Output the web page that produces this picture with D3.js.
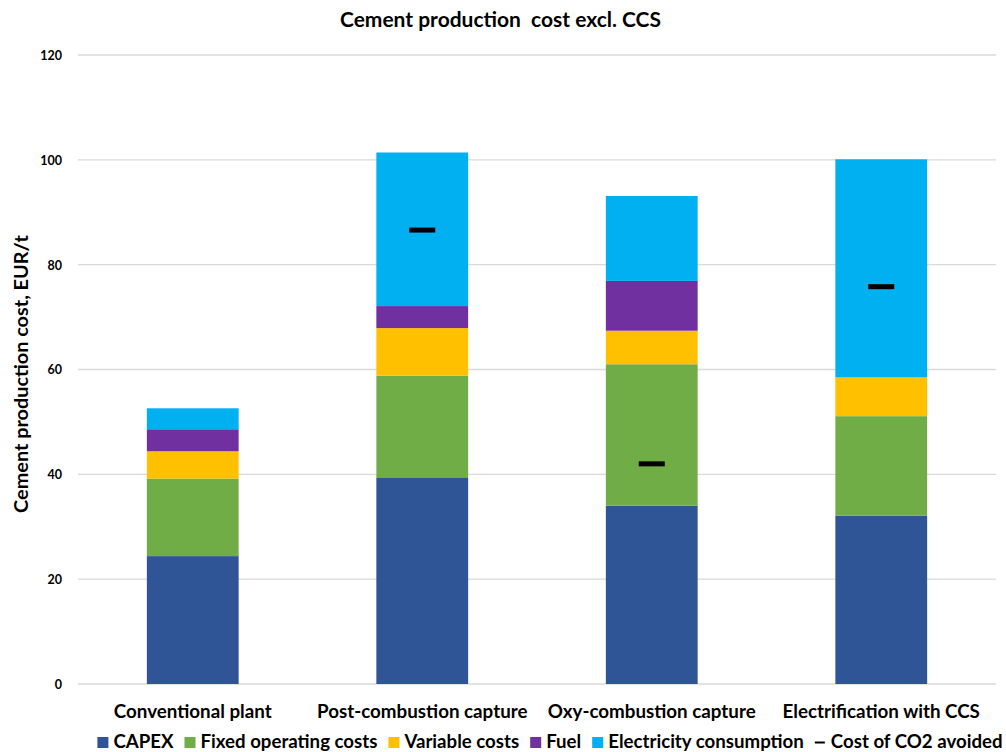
<!DOCTYPE html>
<html><head><meta charset="utf-8">
<script src="https://cdn.jsdelivr.net/npm/d3@7"></script>
<style>
html,body{margin:0;padding:0;background:#fff;}
text{font-family:Lato,"Liberation Sans",sans-serif;font-weight:bold;fill:#000;}
</style></head>
<body><svg id="chart" width="1006" height="752"></svg>
<script>
const categories = ["Conventional plant","Post-combustion capture","Oxy-combustion capture","Electrification with CCS"];
const seriesNames = ["CAPEX","Fixed operating costs","Variable costs","Fuel","Electricity consumption"];
const capex    = [24.4, 39.3, 34.0, 32.1];
const fixedOp  = [14.8, 19.5, 27.0, 19.0];
const variable = [5.2, 9.1, 6.4, 7.4];
const fuel     = [4.2, 4.2, 9.5, 0];
const elec     = [4.0, 29.3, 16.2, 41.6];
const co2Avoided = [null, 86.6, 42.0, 75.8];
const yTicks = [0,20,40,60,80,100,120];
const colors = ["#2F5597","#70AD47","#FFC000","#7030A0","#00B0F0"];

const svg = d3.select("#chart");
const plot = {left:78, right:996, top:55, bottom:684};

// scale a text's font-size so its width matches a target
function fit(sel, target, base) {
  sel.attr("font-size", base);
  const w = sel.node().getComputedTextLength();
  const fs = base * target / w;
  sel.attr("font-size", fs);
  return fs;
}

const x = d3.scaleBand().domain(categories).range([plot.left, plot.right]).paddingInner(0.6).paddingOuter(0.3);
const y = d3.scaleLinear().domain([0,120]).range([plot.bottom, plot.top]);

// gridlines
svg.append("g").selectAll("line").data(yTicks).join("line")
  .attr("x1", plot.left).attr("x2", plot.right)
  .attr("y1", d=>y(d)).attr("y2", d=>y(d))
  .attr("stroke", "#d9d9d9").attr("stroke-width", 1.3);

// y axis labels
const yAxis = d3.axisLeft(y).tickValues(yTicks).tickSize(0).tickPadding(0).tickFormat(d3.format("d"));
const yg = svg.append("g").attr("transform", `translate(62,0)`).call(yAxis);
yg.select(".domain").remove();
yg.selectAll("text").attr("font-size", 12.5).attr("font-family", "'DejaVu Sans','Liberation Sans',sans-serif").attr("font-weight","bold").attr("dy","0.35em");

// stacked data
const rows = categories.map((c,i)=>({cat:c, s0:capex[i], s1:fixedOp[i], s2:variable[i], s3:fuel[i], s4:elec[i]}));
const stack = d3.stack().keys(["s0","s1","s2","s3","s4"])(rows);

svg.append("g").selectAll("g").data(stack).join("g")
  .attr("fill", (d,i)=>colors[i])
  .selectAll("rect").data(d=>d).join("rect")
  .attr("x", d=>x(d.data.cat))
  .attr("width", x.bandwidth())
  .attr("y", d=>y(d[1]))
  .attr("height", d=>Math.max(0, y(d[0]) - y(d[1])));

// CO2 avoided markers
const mk = categories.map((c,i)=>({cat:c, v:co2Avoided[i]})).filter(d=>d.v!=null);
svg.append("g").selectAll("rect").data(mk).join("rect")
  .attr("x", d=>x(d.cat)+x.bandwidth()/2-13)
  .attr("width", 26)
  .attr("y", d=>y(d.v)-2.5)
  .attr("height", 5)
  .attr("fill", "#000");

// x labels
const xl = svg.append("g").selectAll("text").data(categories).join("text")
  .attr("x", d=>x(d)+x.bandwidth()/2)
  .attr("y", 718)
  .attr("text-anchor","middle")
  .text(d=>d);
const xfs = fit(d3.select(xl.nodes()[0]), 158, 16);
xl.attr("font-size", xfs);

// title
const title = svg.append("text").attr("x", 500.5).attr("y", 27).attr("text-anchor","middle")
  .style("white-space","pre").text("Cement production  cost excl. CCS");
fit(title, 321, 17);

// y title
const yt = svg.append("text").attr("transform","translate(28,374) rotate(-90)")
  .attr("text-anchor","middle")
  .text("Cement production cost, EUR/t");
fit(yt, 278, 16);

// legend
const legendItems = seriesNames.map((n,i)=>({name:n, color:colors[i], type:"box"}))
  .concat([{name:"Cost of CO2 avoided", color:"#000", type:"line"}]);
const lg = svg.append("g");
function layoutLegend(fs) {
  lg.selectAll("*").remove();
  let cx = 0;
  legendItems.forEach(it=>{
    const g = lg.append("g").attr("transform", `translate(${cx},0)`);
    if (it.type==="box") {
      g.append("rect").attr("x",0).attr("y",-11).attr("width",11).attr("height",11).attr("fill",it.color);
    } else {
      g.append("rect").attr("x",0).attr("y",-6.5).attr("width",10).attr("height",2).attr("fill",it.color);
    }
    const t = g.append("text").attr("x",16).attr("y",0).attr("font-size",fs).text(it.name);
    cx += 16 + t.node().getComputedTextLength() + 11;
  });
  return cx - 11;
}
let tot = layoutLegend(16);
tot = layoutLegend(16 * (906 - 6*16 - 5*11) / (tot - 6*16 - 5*11));
lg.attr("transform", `translate(${(97+1003)/2 - tot/2},748)`);
</script>
</body></html>
